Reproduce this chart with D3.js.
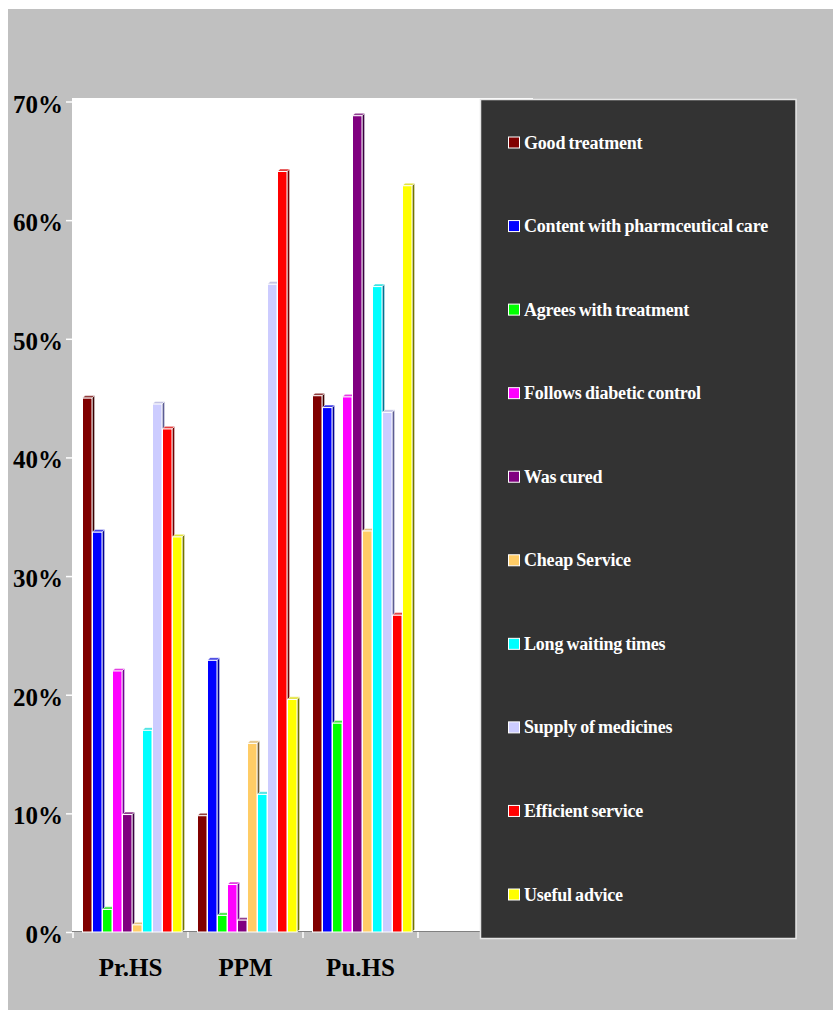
<!DOCTYPE html>
<html>
<head>
<meta charset="utf-8">
<script src="https://cdn.jsdelivr.net/npm/d3@7"></script>
<style>
  html, body { margin: 0; padding: 0; background: #ffffff; }
  svg { display: block; }
</style>
</head>
<body>
<svg id="chart" width="833" height="1010"></svg>
<script>
// ---------------- DATA ----------------
const categories = ["Pr.HS", "PPM", "Pu.HS"];
const seriesNames = [
  "Good treatment",
  "Content with pharmceutical care",
  "Agrees with treatment",
  "Follows diabetic control",
  "Was cured",
  "Cheap Service",
  "Long waiting times",
  "Supply of medicines",
  "Efficient service",
  "Useful advice"
];
const seriesColors = ["#800000", "#0000ff", "#00ff00", "#ff00ff", "#800080",
                      "#ffcc66", "#00ffff", "#ccccff", "#ff0000", "#ffff00"];
// values in % for Pr.HS, PPM, Pu.HS
const goodTreatment   = [45.0,  9.8, 45.2];
const contentPharm    = [33.7, 22.9, 44.2];
const agreesTreatment = [ 1.9,  1.4, 17.6];
const followsControl  = [22.0,  4.0, 45.1];
const wasCured        = [ 9.9,  1.0, 68.8];
const cheapService    = [ 0.6, 15.9, 33.8];
const longWaiting     = [17.0, 11.6, 54.4];
const supplyMedicines = [44.5, 54.6, 43.8];
const efficientServ   = [42.4, 64.1, 26.7];
const usefulAdvice    = [33.3, 19.6, 62.9];
const seriesValues = [goodTreatment, contentPharm, agreesTreatment, followsControl, wasCured,
                      cheapService, longWaiting, supplyMedicines, efficientServ, usefulAdvice];
const yTicks = [0, 10, 20, 30, 40, 50, 60, 70];
const yTickLabels = ["0%", "10%", "20%", "30%", "40%", "50%", "60%", "70%"];

// ---------------- LAYOUT ----------------
const svg = d3.select("#chart");
const plotLeft = 72, plotRight = 533, plotTop = 98, baseY = 932;
const serif = "'Liberation Serif', 'Times New Roman', serif";

// outer grey background
svg.append("rect").attr("x", 8).attr("y", 9).attr("width", 825).attr("height", 1001)
  .attr("fill", "#c0c0c0");

// plot area (white)
svg.append("rect").attr("x", plotLeft).attr("y", plotTop)
  .attr("width", plotRight - plotLeft).attr("height", baseY - plotTop)
  .attr("fill", "#ffffff");

const y = d3.scaleLinear().domain([0, 70]).range([baseY, 101.5]);
const x0 = d3.scaleBand().domain(categories.concat([""])).range([73, 533]).padding(0);
const x1 = d3.scaleBand().domain(d3.range(seriesNames.length)).range([9.5, 109.5]).padding(0);

// baseline (floor)
svg.append("line").attr("x1", plotLeft).attr("x2", plotRight)
  .attr("y1", baseY - 0.5).attr("y2", baseY - 0.5)
  .attr("stroke", "#808080").attr("stroke-width", 1.2);

// Y axis
const yAxis = d3.axisLeft(y).tickValues(yTicks)
  .tickFormat((d, i) => yTickLabels[i]).tickSize(6).tickPadding(3);
const gy = svg.append("g").attr("transform", `translate(${plotLeft},0)`).call(yAxis);
gy.select(".domain").remove();
gy.selectAll(".tick line").attr("stroke", "#ffffff").attr("stroke-width", 1.5);
gy.selectAll(".tick text")
  .attr("font-family", serif).attr("font-weight", "bold").attr("font-size", 25)
  .attr("fill", "#000000").attr("dy", "0.42em");

// X axis
const xAxis = d3.axisBottom(x0).tickSize(0).tickPadding(26);
const gx = svg.append("g").attr("transform", `translate(0,${baseY})`).call(xAxis);
gx.select(".domain").remove();
gx.selectAll(".tick text")
  .attr("font-family", serif).attr("font-weight", "bold").attr("font-size", 25)
  .attr("fill", "#000000");
// tick marks at band boundaries
const bounds = x0.domain().map(d => x0(d));
gx.selectAll("line.bound").data(bounds).join("line").attr("class", "bound")
  .attr("x1", d => d).attr("x2", d => d).attr("y1", 0).attr("y2", 6)
  .attr("stroke", "#ffffff").attr("stroke-width", 1.5);

// ---------------- BARS (pseudo 3D) ----------------
const dx = 2.6, dyD = 2.6;
const bars = [];
categories.forEach((c, ci) => {
  seriesValues.forEach((vals, si) => {
    bars.push({ c, si, v: vals[ci] });
  });
});
const gBars = svg.append("g");
bars.forEach(b => {
  const col = d3.color(seriesColors[b.si]);
  const side = d3.rgb(col.r * 0.45, col.g * 0.45, col.b * 0.5 + (col.b > 200 ? 20 : 0));
  const top = d3.interpolateRgb(col, "#b0b0b0")(0.35);
  const bx = x0(b.c) + x1(b.si);
  const w = x1.bandwidth() - 0.5;
  const yt = y(b.v);
  const g = gBars.append("g");
  // side
  g.append("path")
    .attr("d", `M${bx + w},${yt} L${bx + w + dx},${yt - dyD} L${bx + w + dx},${baseY - dyD} L${bx + w},${baseY} Z`)
    .attr("fill", side.formatHex()).attr("stroke", "#ffffff").attr("stroke-width", 0.5);
  // top
  g.append("path")
    .attr("d", `M${bx},${yt} L${bx + dx},${yt - dyD} L${bx + w + dx},${yt - dyD} L${bx + w},${yt} Z`)
    .attr("fill", top).attr("stroke", "#ffffff").attr("stroke-width", 0.5);
  // face
  g.append("rect").attr("x", bx).attr("y", yt).attr("width", w).attr("height", baseY - yt)
    .attr("fill", col.formatHex()).attr("stroke", "#ffffff").attr("stroke-width", 1);
});

// ---------------- LEGEND ----------------
const lg = svg.append("g");
lg.append("rect").attr("x", 480.5).attr("y", 99.5).attr("width", 315.5).attr("height", 839)
  .attr("fill", "#333333").attr("stroke", "#e6e6e6").attr("stroke-width", 1.5);
const ly = d3.scalePoint().domain(d3.range(seriesNames.length)).range([142.5, 894.5]);
seriesNames.forEach((name, i) => {
  lg.append("rect").attr("x", 508.5).attr("y", ly(i) - 5.5).attr("width", 11).attr("height", 11)
    .attr("fill", seriesColors[i]).attr("stroke", "#ffffff").attr("stroke-width", 1);
  lg.append("text").attr("x", 524).attr("y", ly(i) + 6)
    .attr("font-family", serif).attr("font-weight", "bold").attr("font-size", 18)
    .attr("letter-spacing", "-0.2px").attr("word-spacing", "-1px")
    .attr("fill", "#ffffff").text(name);
});
</script>
</body>
</html>
